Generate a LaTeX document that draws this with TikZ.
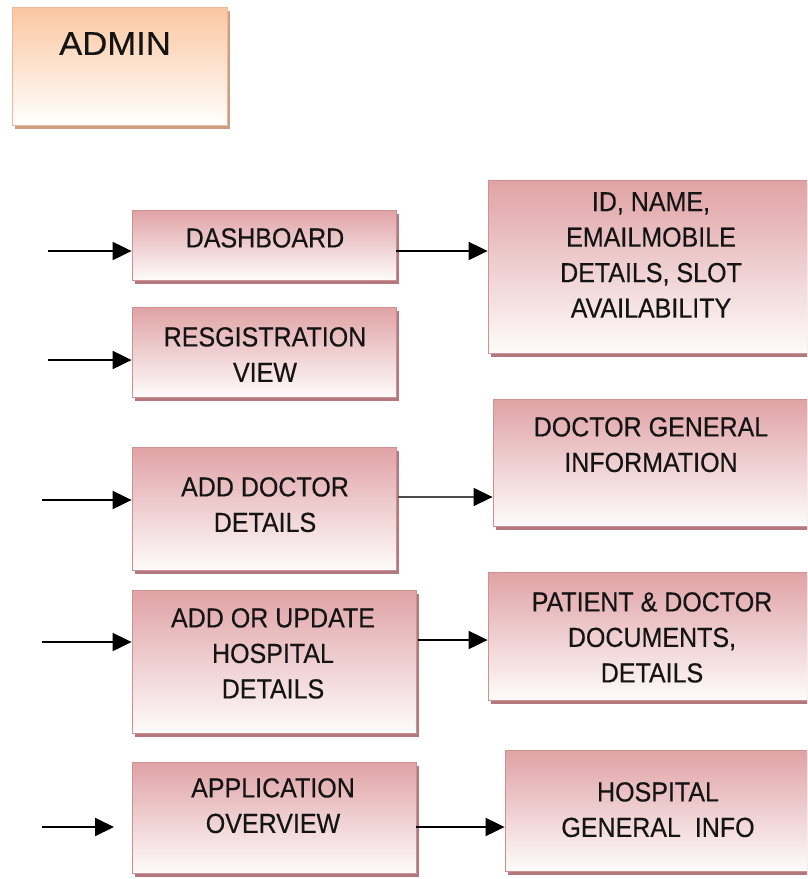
\documentclass[tikz,border=0pt]{standalone}
\usepackage{fontspec}
\setmainfont{Liberation Sans}[FakeStretch=0.91,FakeBold=0.35]
\newfontfamily\adminfont{Liberation Sans}[FakeStretch=1.05,FakeBold=0.35]
\usetikzlibrary{arrows.meta,shadows,fit}
\definecolor{pk}{RGB}{224,162,165}
\definecolor{pkborder}{RGB}{205,145,148}
\definecolor{pkshadow}{RGB}{178,120,125}
\definecolor{pc}{RGB}{250,198,160}
\definecolor{pcborder}{RGB}{236,186,155}
\definecolor{pcshadow}{RGB}{205,158,132}
\tikzset{
  box/.style={draw=pkborder, line width=0.8pt, inner sep=0pt,
    top color=pk, middle color=pk!50, bottom color=pk!4,
    general shadow={fill=pkshadow, shadow xshift=3pt, shadow yshift=-4pt}},
  adminbox/.style={draw=pcborder, line width=0.8pt, inner sep=0pt,
    top color=pc, middle color=pc!45, bottom color=white,
    general shadow={fill=pcshadow, shadow xshift=3pt, shadow yshift=-4pt}},
  txt/.style={inner sep=0pt, align=center, anchor=north, text=black!92,
    font=\fontsize{27.5}{35.5}\selectfont},
  arr/.style={line width=2pt, -{Triangle[length=19pt,width=18pt]}},
  arrthin/.style={line width=1.4pt, draw=black!70, -{Triangle[length=19pt,width=18pt,color=black,fill=black]}},
}
\begin{document}
\begin{tikzpicture}[x=1pt,y=-1pt]
\clip (0,0) rectangle (807,879);
\fill[white] (0,0) rectangle (807,879);
% admin
\node[adminbox, fit={(12,7) (227,125)}] (admin) {};
\node[inner sep=0pt, anchor=north, text=black!92, font=\adminfont\fontsize{33}{40}\selectfont] (admin-t) at (115,32) {ADMIN};
% left column
\node[box, fit={(132,210) (396,280)}] (dash) {};
\node[txt] (dash-t) at (265,228) {DASHBOARD};
\node[box, fit={(132,307) (396,397)}] (reg) {};
\node[txt] (reg-t) at (265,327) {RESGISTRATION\\VIEW};
\node[box, fit={(132,447) (396,570)}] (dr) {};
\node[txt] (dr-t) at (265,477) {ADD DOCTOR\\DETAILS};
\node[box, fit={(132,590) (416,733)}] (hosp) {};
\node[txt] (hosp-t) at (273,608) {ADD OR UPDATE\\HOSPITAL\\DETAILS};
\node[box, fit={(132,762) (416,873)}] (app) {};
\node[txt] (app-t) at (273,778) {APPLICATION\\OVERVIEW};
% right column
\node[box, fit={(488,180) (814,353)}] (id) {};
\node[txt] (id-t) at (651,192) {ID, NAME,\\EMAILMOBILE\\DETAILS, SLOT\\AVAILABILITY};
\node[box, fit={(493,399) (814,526)}] (dgi) {};
\node[txt] (dgi-t) at (651,417) {DOCTOR GENERAL\\INFORMATION};
\node[box, fit={(488,572) (814,700)}] (pat) {};
\node[txt] (pat-t) at (652,592) {PATIENT \& DOCTOR\\DOCUMENTS,\\DETAILS};
\node[box, fit={(505,750) (814,871)}] (hgi) {};
\node[txt] (hgi-t) at (658,782) {HOSPITAL\\GENERAL\ \ INFO};
% arrows
\coordinate (a1) at (48,251);
\coordinate (a2) at (48,360);
\coordinate (a3) at (42,500);
\coordinate (a4) at (42,642);
\coordinate (a5) at (42,827);
\coordinate (a5e) at (114,827);
\coordinate (b3) at (398,497);
\coordinate (b4) at (418,640);
\draw[arr] (a1) -- (a1 -| dash.west);
\draw[arr] (a2) -- (a2 -| reg.west);
\draw[arr] (a3) -- (a3 -| dr.west);
\draw[arr] (a4) -- (a4 -| hosp.west);
\draw[arr] (a5) -- (a5e);
\draw[arr] (dash.east |- a1) -- (id.west |- a1);
\draw[arrthin] (b3) -- (b3 -| dgi.west);
\draw[arr] (b4) -- (b4 -| pat.west);
\draw[arr] (app.east |- a5) -- (hgi.west |- a5);
\end{tikzpicture}
\end{document}
